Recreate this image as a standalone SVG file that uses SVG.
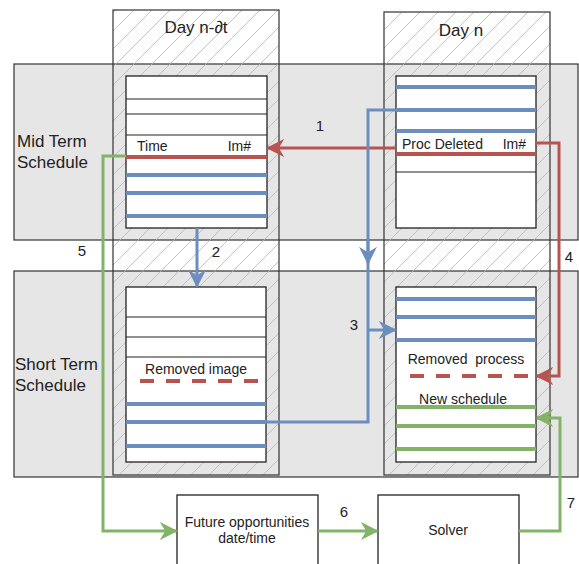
<svg xmlns="http://www.w3.org/2000/svg" width="579" height="564" viewBox="0 0 579 564">
<style>
text{font-family:"Liberation Sans",Arial,sans-serif;fill:#222}
.band{fill:#e6e6e6;stroke:#333;stroke-width:1.2}
.col{fill:url(#hatch);stroke:#333;stroke-width:1.2}
.tbl{fill:#fff;stroke:#222;stroke-width:1.3}
.row{stroke:#222;stroke-width:1.2}
.b{stroke:#6c8ebf;stroke-width:4}
.r{stroke:#b85450;stroke-width:4}
.g{stroke:#82b366;stroke-width:4}
.rd{stroke:#b85450;stroke-width:4;stroke-dasharray:14,12}
.cb{fill:none;stroke:#6c8ebf;stroke-width:3}
.cr{fill:none;stroke:#b85450;stroke-width:3}
.cg{fill:none;stroke:#82b366;stroke-width:3}
.t13{font-size:14px}
.t16{font-size:17px}
.lbl{font-size:15px}
.box{fill:#fff;stroke:#222;stroke-width:1.3}
</style>
<defs>
<pattern id="hatch" patternUnits="userSpaceOnUse" width="18" height="18">
<path d="M-1,1 L1,-1 M0,18 L18,0 M17,19 L19,17" stroke="#b5b5b5" stroke-width="0.8"/>
</pattern>
<marker id="ab" viewBox="0 0 10 10" refX="9" refY="5" markerWidth="6" markerHeight="6" orient="auto" markerUnits="strokeWidth"><path d="M0,0 L10,5 L0,10 L3,5 Z" fill="#6c8ebf"/></marker>
<marker id="ar" viewBox="0 0 10 10" refX="9" refY="5" markerWidth="6" markerHeight="6" orient="auto" markerUnits="strokeWidth"><path d="M0,0 L10,5 L0,10 L3,5 Z" fill="#b85450"/></marker>
<marker id="ag" viewBox="0 0 10 10" refX="9" refY="5" markerWidth="6" markerHeight="6" orient="auto" markerUnits="strokeWidth"><path d="M0,0 L10,5 L0,10 L3,5 Z" fill="#82b366"/></marker>
</defs>
<rect x="0" y="0" width="579" height="564" fill="#fff"/>
<!-- column backgrounds -->
<rect x="113" y="10" width="166" height="465" fill="#fff"/>
<rect x="384" y="12" width="166" height="463" fill="#fff"/>
<!-- bands -->
<g id="mid-term">
<rect class="band" x="14" y="64" width="564" height="176"/>
<text class="t16" x="17" y="147">Mid Term</text>
<text class="t16" x="17" y="168">Schedule</text>
</g>
<g id="short-term">
<rect class="band" x="14" y="271" width="564" height="206"/>
<text class="t16" x="15" y="370">Short Term</text>
<text class="t16" x="15" y="391">Schedule</text>
</g>
<!-- columns -->
<g id="day-n-dt">
<rect class="col" x="113" y="10" width="166" height="465"/>
<text class="t16" x="196" y="33" text-anchor="middle">Day n-∂t</text>
</g>
<g id="day-n">
<rect class="col" x="384" y="12" width="166" height="463"/>
<text class="t16" x="461" y="36" text-anchor="middle">Day n</text>
</g>
<!-- tables -->
<g id="mid-left">
<rect class="tbl" x="126" y="76" width="141" height="152"/>
<line class="row" x1="126" y1="99" x2="267" y2="99"/>
<line class="row" x1="126" y1="114" x2="267" y2="114"/>
<line class="row" x1="126" y1="135" x2="267" y2="135"/>
<text class="t13" x="137" y="151">Time</text>
<text class="t13" x="251" y="151" text-anchor="end">Im#</text>
<line class="r" x1="126" y1="157" x2="267" y2="157"/>
<line class="b" x1="126" y1="175" x2="267" y2="175"/>
<line class="b" x1="126" y1="193" x2="267" y2="193"/>
<line class="b" x1="126" y1="216" x2="267" y2="216"/>
</g>
<g id="mid-right">
<rect class="tbl" x="396" y="76" width="140" height="152"/>
<line class="b" x1="396" y1="87" x2="536" y2="87"/>
<line class="b" x1="396" y1="110" x2="536" y2="110"/>
<line class="b" x1="396" y1="131" x2="536" y2="131"/>
<text class="t13" x="402" y="149">Proc Deleted</text>
<text class="t13" x="526" y="149" text-anchor="end">Im#</text>
<line class="r" x1="396" y1="154" x2="536" y2="154"/>
<line class="row" x1="396" y1="172" x2="536" y2="172"/>
</g>
<g id="short-left">
<rect class="tbl" x="126" y="287" width="140" height="175"/>
<line class="row" x1="126" y1="317" x2="266" y2="317"/>
<line class="row" x1="126" y1="337" x2="266" y2="337"/>
<line class="row" x1="126" y1="357" x2="266" y2="357"/>
<text class="t13" x="196" y="374" text-anchor="middle">Removed image</text>
<line class="rd" x1="140" y1="381" x2="266" y2="381"/>
<line class="b" x1="126" y1="404" x2="266" y2="404"/>
<line class="b" x1="126" y1="422" x2="266" y2="422"/>
<line class="b" x1="126" y1="446" x2="266" y2="446"/>
</g>
<g id="short-right">
<rect class="tbl" x="396" y="287" width="140" height="175"/>
<line class="b" x1="396" y1="299" x2="536" y2="299"/>
<line class="b" x1="396" y1="317" x2="536" y2="317"/>
<line class="b" x1="396" y1="340" x2="536" y2="340"/>
<text class="t13" x="466" y="364" text-anchor="middle" xml:space="preserve" style="white-space:pre">Removed  process</text>
<line class="rd" x1="410" y1="376" x2="536" y2="376"/>
<text class="t13" x="463" y="404" text-anchor="middle">New schedule</text>
<line class="g" x1="396" y1="407" x2="536" y2="407"/>
<line class="g" x1="396" y1="426" x2="536" y2="426"/>
<line class="g" x1="396" y1="449" x2="536" y2="449"/>
</g>
<!-- boxes -->
<g id="future">
<rect class="box" x="177" y="495" width="141" height="75"/>
<text class="t13" x="247" y="527" text-anchor="middle">Future opportunities</text>
<text class="t13" x="247" y="543" text-anchor="middle">date/time</text>
</g>
<g id="solver">
<rect class="box" x="378" y="495" width="141" height="75"/>
<text class="t13" x="448" y="535" text-anchor="middle">Solver</text>
</g>
<!-- connectors -->
<g id="connectors">
<path class="cr" d="M396,148 H268" marker-end="url(#ar)"/>
<text class="lbl" x="320" y="131" text-anchor="middle">1</text>
<path class="cb" d="M197,228 V286" marker-end="url(#ab)"/>
<text class="lbl" x="216" y="257" text-anchor="middle">2</text>
<path class="cb" d="M396,110 H368 V422 H266"/>
<path class="cb" d="M368,240 V263" marker-end="url(#ab)"/>
<path class="cb" d="M368,330 H395" marker-end="url(#ab)"/>
<text class="lbl" x="354" y="330" text-anchor="middle">3</text>
<path class="cr" d="M536,143 H559 V376 H537" marker-end="url(#ar)"/>
<text class="lbl" x="569" y="262" text-anchor="middle">4</text>
<path class="cg" d="M126,156 H103 V531 H176" marker-end="url(#ag)"/>
<text class="lbl" x="82" y="256" text-anchor="middle">5</text>
<path class="cg" d="M318,531 H377" marker-end="url(#ag)"/>
<text class="lbl" x="344" y="517" text-anchor="middle">6</text>
<path class="cg" d="M519,531 H560 V418 H537" marker-end="url(#ag)"/>
<text class="lbl" x="571" y="508" text-anchor="middle">7</text>
</g>
</svg>
